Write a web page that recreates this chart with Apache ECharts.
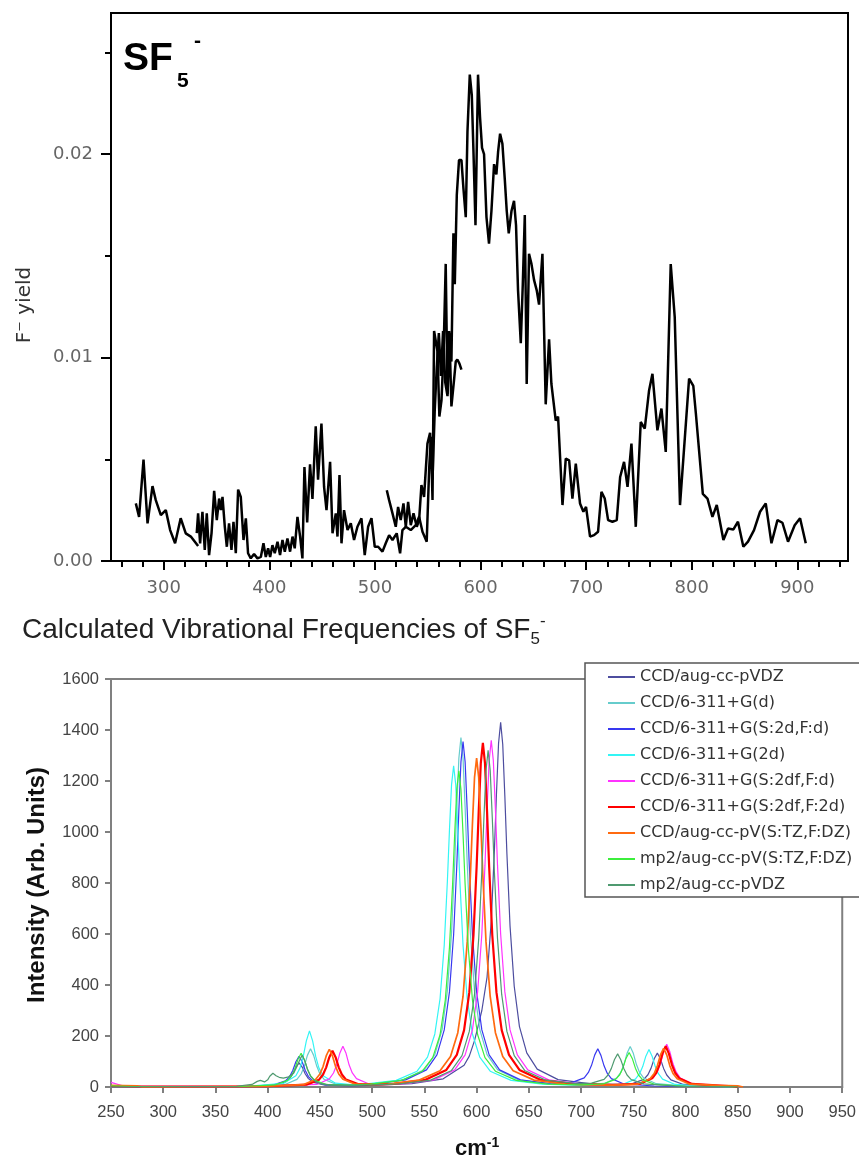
<!DOCTYPE html>
<html>
<head>
<meta charset="utf-8">
<script src="https://cdn.jsdelivr.net/npm/echarts@6/dist/echarts.min.js"></script>
<style>html,body{margin:0;padding:0;background:#fff}#c{width:859px;height:1170px}</style>
</head>
<body>
<div id="c"></div>
<script>
// ---------- DATA: top panel (F- yield scans) ----------
const scanA = [[273.5,0.00283],[276.6,0.00217],[280.8,0.00498],[284.6,0.00185],[289.3,0.00368],[292.4,0.00299],[297.2,0.00225],[301.9,0.0025],[306,0.00152],[310.7,0.00087],[316,0.0021],[320.8,0.00136],[325.6,0.0012],[332.5,0.00074]];
const scanB = [[331.2,0.00137],[332.5,0.00234],[334.4,0.00087],[336.6,0.00242],[338.8,0.00054],[340.7,0.00234],[342.9,0.00029],[345.2,0.00136],[347.7,0.00345],[350.2,0.00201],[352.4,0.00307],[354,0.0025],[355.6,0.00315],[357.8,0.00168],[359.7,0.0007],[361.8,0.00185],[364.1,0.00054],[366,0.00193],[368.2,0.00038],[370.4,0.00351],[372.9,0.00315],[375.5,0.00103],[377.7,0.0021],[379.8,0.00038],[382.4,0.00013],[385.5,0.00034],[388.7,0.00013],[391.9,0.0002],[394.4,0.00087],[396.6,0.0002],[398.8,0.00062],[400.7,0.0002],[402.9,0.00078],[405.1,0.00038],[407.7,0.00095],[410.1,0.00029],[412.4,0.00103],[414.6,0.00046],[417.1,0.00111],[419.6,0.00046],[421.9,0.0012],[424,0.00062],[426.6,0.00217],[429.1,0.0012],[431.3,0.00013],[433.2,0.00462],[435.8,0.0019],[438.5,0.00475],[440.8,0.00305],[443.9,0.00662],[446.1,0.004],[449.3,0.00675],[451.8,0.00364],[454.1,0.0025],[457.5,0.00487],[459.8,0.00136],[462.9,0.00234],[464.5,0.0012],[466.4,0.00422],[468.3,0.00087],[470.7,0.0025],[474,0.00152],[477.1,0.00185],[480.2,0.00103],[483.4,0.00168],[487.2,0.0021],[490.3,0.00029],[493.5,0.00168],[496.7,0.0021],[499.8,0.0007],[503,0.0007],[507.1,0.00046],[510.2,0.00087],[513.4,0.00127],[516.6,0.00103],[520.6,0.00136],[523.8,0.00038],[526,0.00152],[529.2,0.00168],[533.9,0.00152],[538.6,0.00176],[541.8,0.00217],[545,0.00144],[549,0.00095],[551.3,0.0045],[553,0.0061],[554.5,0.003],[556,0.0113],[559.2,0.0103],[561,0.0071],[563,0.0079],[565,0.0103],[567,0.0146],[568.7,0.0082],[570.2,0.0113],[572.4,0.0098],[574.3,0.0161],[575.6,0.0136],[577.5,0.018],[579.6,0.0197],[581.9,0.0197],[583.8,0.0183],[586,0.0169],[587.6,0.0211],[589.8,0.0239],[591.7,0.0229],[593.3,0.0201],[595.2,0.0165],[597.6,0.0239],[599.5,0.0218],[601.4,0.0203],[603.3,0.02],[605.6,0.0169],[608,0.0156],[610.3,0.0172],[612.8,0.0195],[615,0.019],[616.6,0.0201],[618.5,0.021],[620.7,0.0205],[622.9,0.0188],[624.8,0.0172],[626.7,0.0161],[629.3,0.0172],[631.7,0.0177],[633.6,0.0165],[635.5,0.0133],[638.1,0.0107],[640,0.0136],[641.9,0.017],[643.7,0.0087],[645.9,0.0151],[648.2,0.0146],[650.7,0.0138],[653.2,0.0133],[655.4,0.0126],[658.6,0.0151],[661.7,0.0077],[664.9,0.0109],[667.1,0.0087],[671.2,0.0069],[673.4,0.0071],[677.6,0.00275],[680.7,0.00503],[683.9,0.00495],[687,0.00307],[690.2,0.00479],[694.2,0.00283],[697.4,0.00242],[699.9,0.00266],[703.7,0.0012],[707.5,0.00127],[711.3,0.00144],[714.5,0.0034],[717.6,0.00307],[720.8,0.00201],[724.9,0.00193],[729,0.00201],[732.2,0.00413],[735.9,0.00487],[739.2,0.00364],[742.9,0.00577],[747,0.00168],[751.7,0.00683],[755.5,0.0065],[759.6,0.00838],[762.8,0.0092],[767.5,0.00642],[771.3,0.00749],[775.4,0.00536],[780.1,0.01459],[783.9,0.01198],[788.9,0.00275],[797.5,0.00896],[801.5,0.0086],[804,0.0072],[810.5,0.0033],[814.9,0.00307],[819.6,0.00217],[823.7,0.00275],[830,0.00103],[834.4,0.0016],[839.5,0.00155],[843.8,0.00193],[848.9,0.0007],[853.3,0.00095],[859,0.00152],[864.7,0.00242],[870.1,0.00283],[875.5,0.00087],[881.2,0.00201],[885.9,0.00188],[891.2,0.00095],[897.5,0.00176],[902.6,0.0021],[908,0.00087]];
const scanD = [[511.2,0.00348],[513.4,0.00299],[516.6,0.00234],[519.7,0.00168],[521.9,0.00266],[524.4,0.00201],[527,0.00283],[529.2,0.00168],[531.4,0.00291],[533.9,0.00176],[536.5,0.00234],[539.6,0.00168],[541.8,0.00201],[544,0.00373],[546.5,0.00315],[549.7,0.00577],[552.2,0.0063],[554.5,0.004],[556.6,0.0074],[558.5,0.0095],[560.5,0.0112],[562.5,0.0091],[564.5,0.0113],[566.5,0.0088],[568.7,0.0081],[570.5,0.0112],[572.4,0.0076],[574.9,0.0089],[576.5,0.0098],[578,0.0099],[580,0.0097],[581.9,0.0094]];

// ---------- DATA: bottom panel (calculated spectra) ----------
const calcNames = ['CCD/aug-cc-pVDZ','CCD/6-311+G(d)','CCD/6-311+G(S:2d,F:d)','CCD/6-311+G(2d)','CCD/6-311+G(S:2df,F:d)','CCD/6-311+G(S:2df,F:2d)','CCD/aug-cc-pV(S:TZ,F:DZ)','mp2/aug-cc-pV(S:TZ,F:DZ)','mp2/aug-cc-pVDZ'];
const calc1 = [[250,0],[380,1],[405,6],[417,19],[421,33],[424,51],[427,78],[430,95],[433,78],[436,51],[439,33],[443,19],[455,7],[480,4],[510,8],[538,13],[568,32],[588,85],[593,121],[598,182],[601,232],[603,266],[605,300],[610,431],[614,650],[617,926],[619,1150],[621,1348],[623,1430],[625,1344],[627,1143],[629,915],[632,631],[636,395],[641,237],[648,134],[658,70],[678,29],[708,13],[735,9],[748,12],[760,30],[764,48],[767,74],[770,111],[773,133],[776,110],[779,73],[782,47],[786,28],[798,10],[830,4],[850,2]];
const calc2 = [[250,0],[380,2],[416,9],[428,30],[432,51],[435,81],[438,124],[441,150],[444,124],[447,81],[450,51],[454,30],[466,10],[480,8],[500,12],[530,28],[550,68],[560,127],[567,226],[572,377],[576,604],[579,877],[581,1096],[583,1289],[585,1370],[587,1289],[589,1096],[591,877],[594,604],[598,377],[603,226],[610,127],[620,68],[640,28],[670,12],[700,8],[722,14],[734,35],[738,57],[741,88],[744,132],[747,159],[750,132],[753,88],[756,57],[760,35],[772,13],[800,4],[850,1]];
const calc3 = [[250,0],[380,2],[405,8],[417,24],[421,41],[424,65],[427,99],[430,120],[433,99],[436,65],[439,41],[443,24],[455,9],[480,6],[502,12],[532,28],[552,67],[562,126],[569,224],[574,373],[578,598],[581,867],[583,1084],[585,1275],[587,1355],[589,1275],[591,1084],[593,867],[596,598],[600,373],[605,224],[612,126],[622,67],[642,28],[672,12],[691,17],[703,36],[707,57],[710,85],[713,125],[716,150],[719,124],[722,83],[725,54],[729,33],[741,12],[770,4],[850,0]];
const calc4 = [[250,0],[380,3],[415,14],[427,44],[431,75],[434,119],[437,181],[440,220],[443,181],[446,119],[449,75],[453,44],[465,15],[480,9],[493,11],[523,26],[543,62],[553,117],[560,208],[565,346],[569,556],[572,806],[574,1008],[576,1186],[578,1260],[580,1186],[582,1008],[584,806],[587,556],[591,346],[596,208],[603,117],[613,62],[633,26],[663,11],[700,6],[740,11],[752,31],[756,52],[759,80],[762,121],[765,147],[768,121],[771,80],[774,52],[778,31],[790,10],[820,3],[850,0]];
const calc5 = [[250,18],[262,4],[400,3],[447,10],[459,32],[463,55],[466,86],[469,132],[472,160],[475,132],[478,86],[481,55],[485,33],[497,12],[510,10],[529,12],[559,28],[579,67],[589,126],[596,224],[601,374],[605,600],[608,870],[610,1088],[612,1280],[614,1360],[616,1280],[618,1088],[620,870],[623,600],[627,374],[632,224],[639,126],[649,67],[669,28],[699,12],[730,8],[757,14],[769,36],[773,60],[776,92],[779,139],[782,168],[785,138],[788,91],[791,59],[795,35],[807,12],[835,4],[850,2]];
const calc6 = [[250,3],[275,2],[400,3],[437,9],[449,28],[453,49],[456,77],[459,117],[462,142],[465,117],[468,77],[471,49],[475,29],[487,11],[505,10],[521,12],[551,28],[571,67],[581,126],[588,223],[593,371],[597,595],[600,864],[602,1080],[604,1270],[606,1350],[608,1270],[610,1080],[612,864],[615,595],[619,371],[624,223],[631,126],[641,67],[661,28],[691,12],[730,8],[756,12],[768,34],[772,56],[775,87],[778,132],[781,160],[784,132],[787,87],[790,56],[794,34],[806,12],[845,3],[850,0]];
const calc7 = [[250,6],[275,5],[280,0],[400,3],[434,9],[446,30],[450,51],[453,80],[456,122],[459,148],[462,122],[465,80],[468,51],[472,31],[484,11],[500,10],[515,11],[545,27],[565,64],[575,120],[582,213],[587,355],[591,569],[594,826],[596,1032],[598,1214],[600,1290],[602,1214],[604,1032],[606,826],[609,569],[613,355],[618,213],[625,120],[635,64],[655,27],[685,11],[730,7],[754,11],[766,32],[770,53],[773,83],[776,126],[779,152],[782,126],[785,83],[788,53],[792,32],[804,11],[830,6],[850,5],[855,0]];
const calc8 = [[250,5],[270,2],[380,3],[407,8],[419,26],[423,45],[426,71],[429,109],[432,132],[435,109],[438,71],[441,45],[445,26],[457,9],[480,7],[498,11],[528,26],[548,62],[558,115],[565,205],[570,341],[574,547],[577,794],[579,992],[581,1167],[583,1240],[585,1167],[587,992],[589,794],[592,547],[596,341],[601,205],[608,115],[618,62],[638,26],[668,11],[700,8],[721,12],[733,30],[737,48],[740,74],[743,112],[746,135],[749,112],[752,74],[755,47],[759,28],[771,10],[800,3],[850,0]];
const calc9 = [[250,0],[370,3],[385,10],[390,22],[393,26],[397,20],[400,28],[402,42],[405,54],[408,44],[411,38],[415,35],[420,40],[425,55],[428,80],[430,100],[433,125],[436,97],[438,70],[441,42],[445,24],[451,12],[463,7],[500,8],[526,12],[556,27],[576,65],[586,123],[593,218],[598,363],[602,582],[605,845],[607,1056],[609,1242],[611,1320],[613,1242],[615,1056],[617,845],[620,582],[624,363],[629,218],[636,123],[646,65],[666,27],[696,13],[710,15],[722,30],[726,48],[729,73],[732,108],[735,130],[738,107],[741,72],[744,47],[748,29],[760,12],[790,4],[850,0]];

// ---------- tick values ----------
const topXMajor = [300,400,500,600,700,800,900];
const topXMinor = [260,280,320,340,360,380,420,440,460,480,520,540,560,580,620,640,660,680,720,740,760,780,820,840,860,880,920,940];
const topYMajor = [0,0.01,0.02];
const topYMinor = [0.005,0.015,0.025];

// ---------- styles ----------
const calcColors = ['#4d4d9f','#66cccc','#3838f0','#33f5f5','#ff33ff','#ff0000','#ff6a10','#3cee3c','#4f9a70'];
const calcWidths = [1.2,1.2,1.2,1.2,1.2,2.2,1.7,1.2,1.2];
const calcData = [calc1,calc2,calc3,calc4,calc5,calc6,calc7,calc8,calc9];

const chart = echarts.init(document.getElementById('c'));
const topFont = 'DejaVu Sans';
const botFont = 'Liberation Sans, Arial';

const series = [];
[scanA, scanB, scanD].forEach((d, i) => {
  series.push({name:'scan'+i, type:'line', xAxisIndex:0, yAxisIndex:0, data:d, symbol:'none',
    lineStyle:{color:'#000', width:2.5}, itemStyle:{color:'#000'}, animation:false, z:3});
});
calcData.forEach((d, i) => {
  series.push({name:calcNames[i], type:'line', xAxisIndex:2, yAxisIndex:2, data:d, symbol:'none', showSymbol:false,
    lineStyle:{color:calcColors[i], width:calcWidths[i]}, itemStyle:{color:calcColors[i]}, animation:false});
});

const option = {
  backgroundColor:'#fff',
  animation:false,
  grid:[
    {left:111, top:13, width:737, height:548, show:true, borderColor:'#000', borderWidth:2, backgroundColor:'transparent'},
    {left:111, top:679, width:732, height:408, show:true, borderColor:'#808080', borderWidth:2, backgroundColor:'transparent'}
  ],
  xAxis:[
    {gridIndex:0, type:'value', min:250, max:948, position:'bottom',
      axisLine:{show:true, onZero:false, lineStyle:{color:'#000', width:2}},
      axisTick:{show:true, customValues:topXMajor, length:9, lineStyle:{color:'#000', width:2}},
      axisLabel:{customValues:topXMajor, color:'#666', fontSize:18, fontFamily:topFont, margin:18},
      splitLine:{show:false}},
    {gridIndex:0, type:'value', min:250, max:948, position:'bottom',
      axisLine:{show:false, onZero:false},
      axisTick:{show:true, customValues:topXMinor, length:6, lineStyle:{color:'#000', width:2}},
      axisLabel:{show:false}, splitLine:{show:false}},
    {gridIndex:1, type:'value', min:250, max:950, interval:50, position:'bottom',
      axisLine:{show:true, onZero:false, lineStyle:{color:'#808080', width:2}},
      axisTick:{show:true, length:6, lineStyle:{color:'#808080', width:2}},
      axisLabel:{color:'#444', fontSize:16.5, fontFamily:botFont, margin:17, formatter:v => String(v)},
      splitLine:{show:false}}
  ],
  yAxis:[
    {gridIndex:0, type:'value', min:0, max:0.02693, position:'left',
      axisLine:{show:true, onZero:false, lineStyle:{color:'#000', width:2}},
      axisTick:{show:true, customValues:topYMajor, length:10, lineStyle:{color:'#000', width:2}},
      axisLabel:{customValues:topYMajor, color:'#666', fontSize:18, fontFamily:topFont, margin:18, formatter:v => v.toFixed(2)},
      splitLine:{show:false}},
    {gridIndex:0, type:'value', min:0, max:0.02693, position:'left',
      axisLine:{show:false, onZero:false},
      axisTick:{show:true, customValues:topYMinor, length:6, lineStyle:{color:'#000', width:2}},
      axisLabel:{show:false}, splitLine:{show:false}},
    {gridIndex:1, type:'value', min:0, max:1600, interval:200, position:'left',
      axisLine:{show:true, onZero:false, lineStyle:{color:'#808080', width:2}},
      axisTick:{show:true, length:6, lineStyle:{color:'#808080', width:2}},
      axisLabel:{color:'#444', fontSize:16.5, fontFamily:botFont, margin:12, formatter:v => String(v)},
      splitLine:{show:false}}
  ],
  legend:{
    data:calcNames, orient:'vertical', left:585, top:663,
    backgroundColor:'#fff', borderColor:'#555', borderWidth:1.5,
    padding:[6,40,4,22], itemWidth:27, itemHeight:14, itemGap:10,
    itemStyle:{opacity:0},
    textStyle:{color:'#333', fontSize:16, fontFamily:'DejaVu Sans'},
    selectedMode:false, z:10
  },
  graphic:[
    {type:'text', left:123, top:40, style:{text:'SF', font:'bold 39px "Liberation Sans", Arial', fill:'#000'}},
    {type:'text', left:177, top:71, style:{text:'5', font:'bold 21px "Liberation Sans", Arial', fill:'#000'}},
    {type:'text', left:194, top:31, style:{text:'-', font:'bold 21px "Liberation Sans", Arial', fill:'#000'}},
    {type:'text', x:25, y:305, rotation:Math.PI/2, style:{text:'F\u207B yield', font:'20px "DejaVu Sans"', fill:'#333', align:'center', verticalAlign:'middle'}},
    {type:'text', left:22, top:613, style:{text:'{t|Calculated Vibrational Frequencies of SF}{s|5}{p|-}',
      rich:{t:{font:'28px "Liberation Sans", Arial', fill:'#222', lineHeight:35},
            s:{font:'17px "Liberation Sans", Arial', fill:'#222', verticalAlign:'bottom', lineHeight:35},
            p:{font:'17px "Liberation Sans", Arial', fill:'#222', verticalAlign:'top', lineHeight:35}}}},
    {type:'text', x:37, y:885, rotation:Math.PI/2, style:{text:'Intensity (Arb. Units)', font:'bold 24px "Liberation Sans", Arial', fill:'#111', align:'center', verticalAlign:'middle'}},
    {type:'text', left:455, top:1136, style:{text:'{c|cm}{e|-1}', rich:{c:{font:'bold 22px "Liberation Sans", Arial', fill:'#111', lineHeight:26}, e:{font:'bold 14px "Liberation Sans", Arial', fill:'#111', verticalAlign:'top', lineHeight:26}}}}
  ],
  series:series
};
chart.setOption(option);
</script>
</body>
</html>
